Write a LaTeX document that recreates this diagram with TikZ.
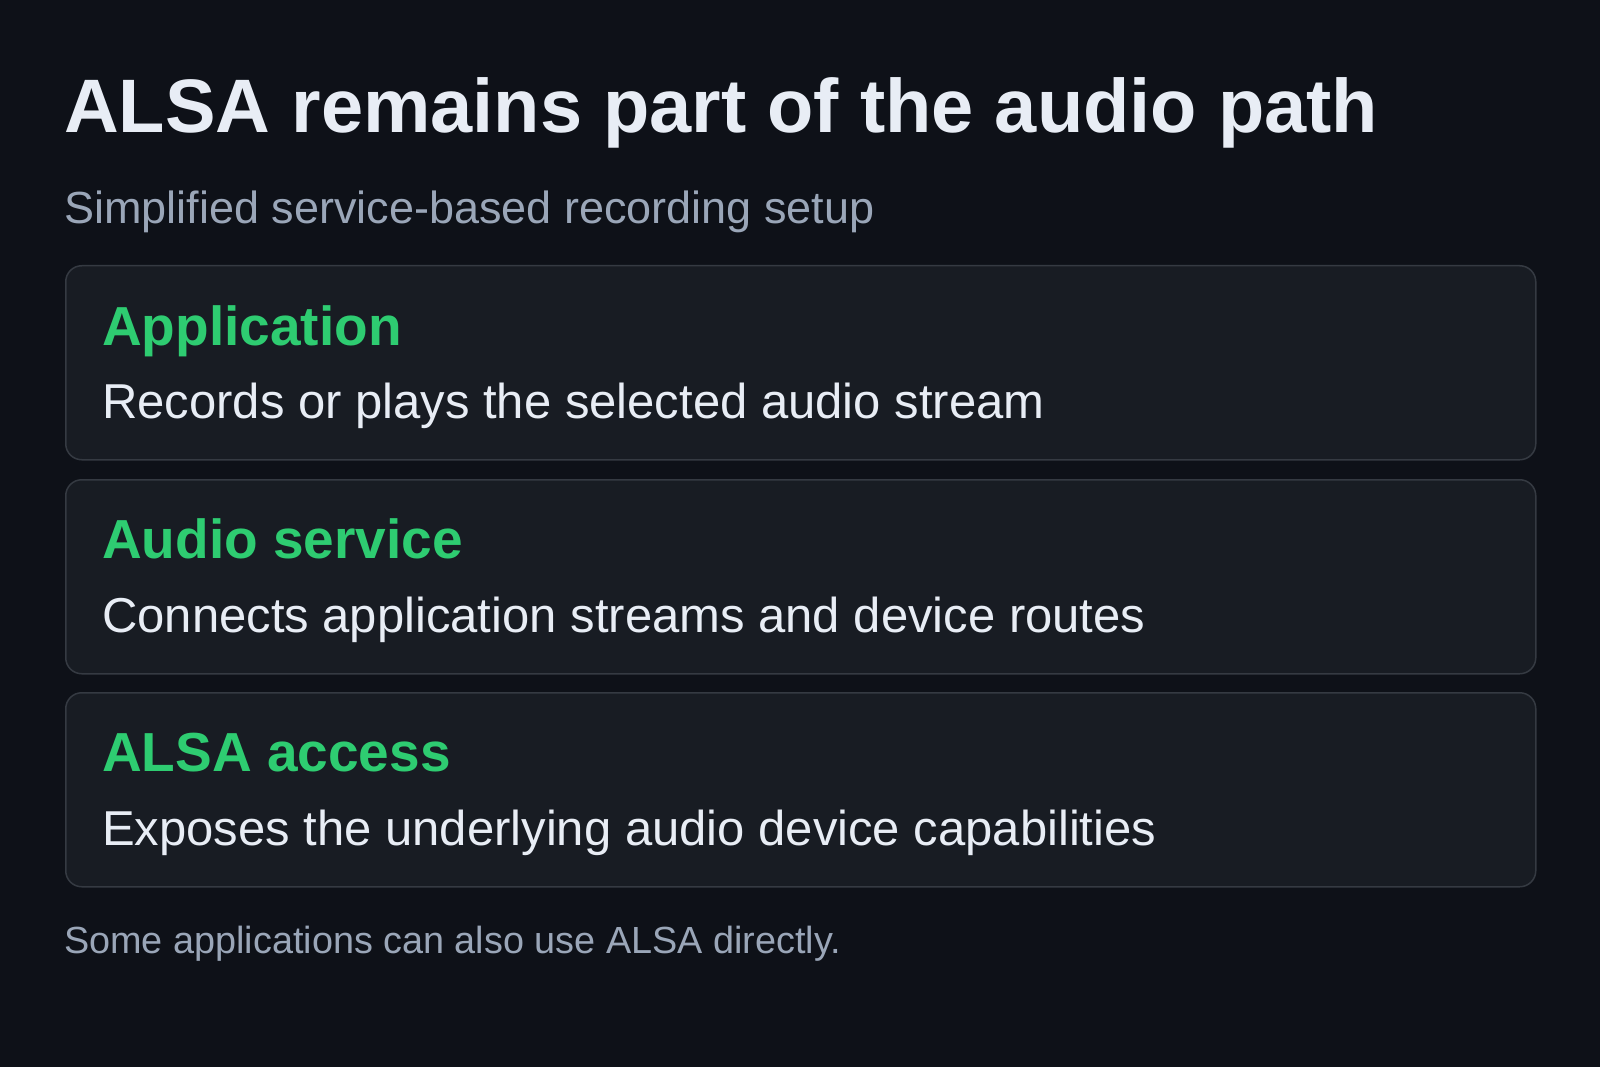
\documentclass[tikz,border=0pt]{standalone}
\usepackage{fontspec}
\setmainfont{Liberation Sans}
\definecolor{bg}{HTML}{0E1118}
\definecolor{cardfill}{HTML}{181C23}
\definecolor{cardline}{HTML}{353A42}
\definecolor{accent}{HTML}{2ECC71}
\definecolor{fg}{HTML}{E8EDF5}
\definecolor{muted}{HTML}{9AA6B8}
\begin{document}
\begin{tikzpicture}[x=1pt,y=-1pt,
  card/.style={draw=cardline, line width=1.5pt, fill=cardfill, rounded corners=16pt,
    minimum width=1470pt, minimum height=194pt, anchor=north west, inner sep=0pt},
  txt/.style={anchor=base west, inner sep=0pt},
  heading/.style={txt, text=accent, font=\fontsize{55}{60}\selectfont\bfseries},
  desc/.style={txt, text=fg, font=\fontsize{49}{54}\selectfont},
]
\fill[bg] (0,0) rectangle (1600,1067);
\useasboundingbox (0,0) rectangle (1600,1067);

\node[txt, text=fg, font=\fontsize{75.8}{82}\selectfont\bfseries] (title) at (64,132.7) {ALSA remains part of the audio path};
\node[txt, text=muted, font=\fontsize{45}{50}\selectfont] (subtitle) at (64,224) {Simplified service-based recording setup};

\node[card] (app) at (65,265) {};
\node[card] (svc) at (65,479) {};
\node[card] (alsa) at (65,692) {};

\node[heading] (apph) at (102,345) {Application};
\node[desc] (appd) at (102,418.5) {Records or plays the selected audio stream};

\node[heading] (svch) at (102,558.5) {Audio service};
\node[desc] (svcd) at (102,632) {Connects application streams and device routes};

\node[heading] (alsah) at (102,771.5) {ALSA access};
\node[desc] (alsad) at (102,845.5) {Exposes the underlying audio device capabilities};

\node[txt, text=muted, font=\fontsize{37.8}{42}\selectfont] (note) at (64,953.3) {Some applications can also use ALSA directly.};
\end{tikzpicture}
\end{document}
